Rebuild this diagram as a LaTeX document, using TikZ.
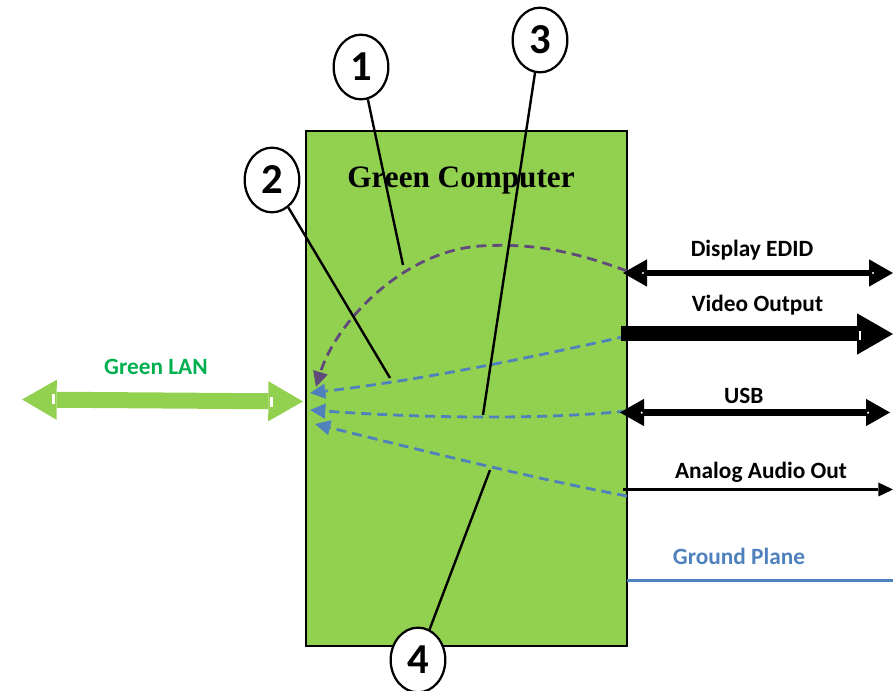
\documentclass[tikz,border=0pt]{standalone}
\usepackage{fontspec}
\setmainfont{Liberation Serif}
\newfontfamily\labelfont{Carlito}
\usetikzlibrary{arrows.meta,shapes.geometric}
\definecolor{pcgreen}{HTML}{92D050}
\definecolor{langreen}{HTML}{00B050}
\definecolor{edidpurple}{HTML}{604A7B}
\definecolor{sigblue}{HTML}{4F81BD}
\begin{document}
\begin{tikzpicture}[x=0.75pt,y=-0.75pt,
  lbl/.style={font=\labelfont\bfseries\fontsize{17.5}{21}\selectfont, inner sep=0pt, anchor=base},
  callout/.style={ellipse, draw, line width=1.7pt, fill=white, minimum width=41pt,
    minimum height=48.5pt, inner sep=0pt, font=\labelfont\bfseries\fontsize{32}{32}\selectfont},
  leader/.style={line width=1.8pt},
  flow/.style={line width=2.1pt, dash pattern=on 7.5pt off 4.5pt,
    -{Triangle[length=11.5pt,width=11.5pt,line width=0pt]}},
  busarrow/.style={line width=4.9pt, {Triangle[length=18pt,width=20.5pt,line width=0pt]}-{Triangle[length=18pt,width=20.5pt,line width=0pt]}},
  nick/.style={white}
]
\path[use as bounding box] (0,0) rectangle (893,691);

% computer body and its title
\node[draw, fill=pcgreen, line width=1.5pt, minimum width=240.75pt, minimum height=386.25pt,
      anchor=north west, inner sep=0pt] (pc) at (305,130) {};
\node[font=\bfseries\fontsize{23.4}{28}\selectfont, inner sep=0pt, anchor=base] (title) at (461,188) {Green Computer};

% end points of the internal signal paths
\coordinate (edidIn)  at (627,271);
\coordinate (videoIn) at (627,336);
\coordinate (usbIn)   at (627,411);
\coordinate (audioIn) at (627,496);
\coordinate (lanTop)  at (316,387);
\coordinate (lanA)    at (310,393);
\coordinate (lanB)    at (310,410);
\coordinate (lanC)    at (315,424);

% internal signal paths towards the LAN port
\draw[flow, edidpurple] (edidIn) .. controls (570,250) and (530,243) .. (480,246)
      .. controls (400,252) and (335,325) .. (lanTop);
\draw[flow, sigblue] (videoIn) .. controls (520,360) and (420,380) .. (lanA);
\draw[flow, sigblue] (usbIn) .. controls (540,420) and (420,418) .. (lanB);
\draw[flow, sigblue] (audioIn) .. controls (540,480) and (420,450) .. (lanC);

% Green LAN
\coordinate (lanL) at (22,399.5);
\coordinate (lanR) at (303,401.5);
\draw[pcgreen, line width=12pt,
  {Triangle[length=26pt,width=30pt,line width=0pt]}-{Triangle[length=26pt,width=30pt,line width=0pt]}] (lanL) -- (lanR);
\fill[nick] (51.5,394) rectangle (55,404);
\fill[nick] (270,397) rectangle (272.7,407);
\node[lbl, text=langreen] (lanlbl) at (156,375) {Green LAN};

% outputs on the right side
\coordinate (edidL) at (623,273);   \coordinate (edidR) at (893,273);
\coordinate (vidL)  at (621,334);   \coordinate (vidR)  at (893,334);
\coordinate (usbL)  at (620,412.5); \coordinate (usbR)  at (890,412.5);
\coordinate (audL)  at (623,489.5); \coordinate (audR)  at (893,489.5);
\coordinate (gndL)  at (627,580.5); \coordinate (gndR)  at (893,580.5);

\draw[busarrow] (edidL) -- (edidR);
\draw[line width=11.25pt, -{Triangle[length=27pt,width=31pt,line width=0pt]}] (vidL) -- (vidR);
\draw[busarrow] (usbL) -- (usbR);
\draw[line width=1.7pt, -{Triangle[length=11pt,width=10.5pt,line width=0pt]}] (audL) -- (audR);
\draw[sigblue, line width=2.2pt] (gndL) -- (gndR);
\fill[nick] (643,273) circle (0.9pt);
\fill[nick] (873,273) circle (0.9pt);
\fill[nick] (641.7,412.7) circle (0.9pt);
\fill[nick] (868,412.7) circle (0.9pt);
\fill[nick] (859,331.5) rectangle (861,340);

\node[lbl] (edidlbl)  at (752,257) {Display EDID};
\node[lbl] (vidlbl)   at (757.5,312) {Video Output};
\node[lbl] (usblbl)   at (743.7,403.3) {USB};
\node[lbl] (audlbl)   at (761,478.3) {Analog Audio Out};
\node[lbl, text=sigblue] (gndlbl) at (739,564.3) {Ground Plane};

% numbered callouts
\coordinate (p1) at (403,265);
\coordinate (p2) at (390,378);
\coordinate (p3) at (483,415);
\coordinate (p4) at (490,470);
\node[callout] (c1) at (361,67) {1};
\node[callout] (c2) at (272,180) {2};
\node[callout] (c3) at (540,40) {3};
\node[callout] (c4) at (418,660) {4};
\draw[leader] (c1) -- (p1);
\draw[leader] (c2) -- (p2);
\draw[leader] (c3) -- (p3);
\draw[leader] (c4) -- (p4);
\end{tikzpicture}
\end{document}
